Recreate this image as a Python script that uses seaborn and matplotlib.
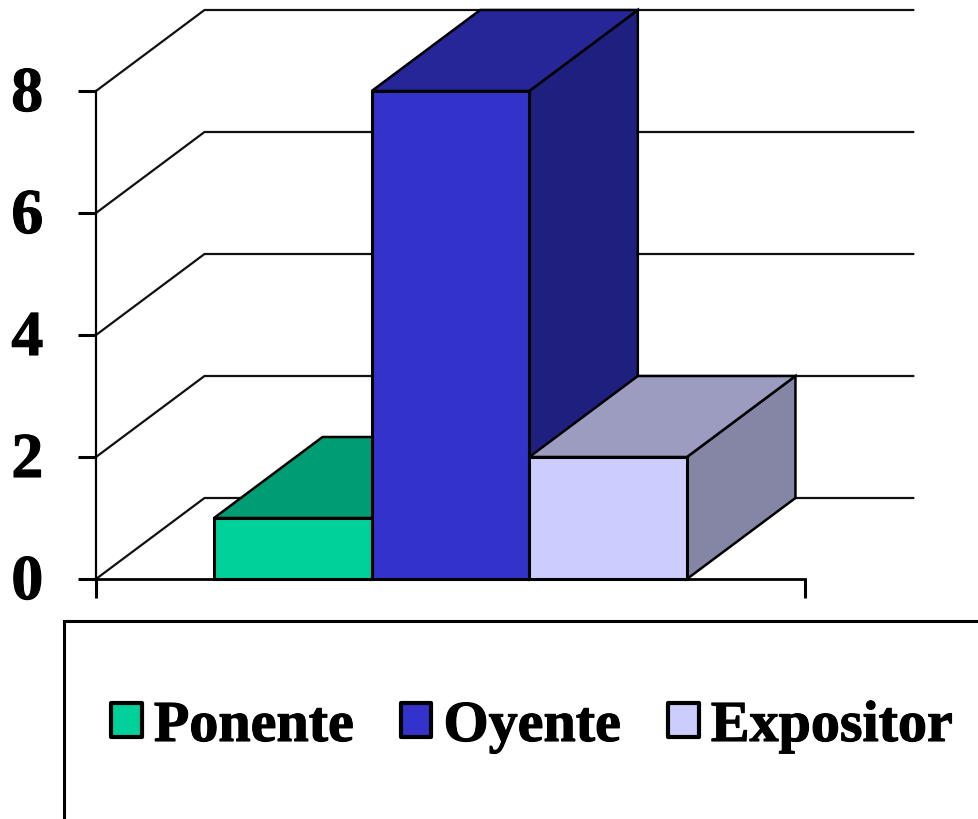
import matplotlib
matplotlib.use('Agg')
import matplotlib.pyplot as plt
import matplotlib.patheffects as pe
import matplotlib.transforms as mtrans
import seaborn as sns
import pandas as pd
from matplotlib.patches import Polygon, Rectangle

series = ['Ponente', 'Oyente', 'Expositor']
values = [1, 8, 2]
y_ticks = [0, 2, 4, 6, 8]

front_colors = ['#00D09A', '#3333CC', '#CCCCFF']
top_colors = ['#009C74', '#262699', '#9C9CC0']
side_colors = ['#00684D', '#1F1F80', '#8585A6']

sns.set_theme(style='white')
plt.rcParams['font.family'] = ['Liberation Serif', 'DejaVu Serif']
plt.rcParams['font.weight'] = 'bold'

W, H = 979, 819
fig = plt.figure(figsize=(W / 100, H / 100), dpi=100)
ax = fig.add_axes([96 / W, 1 - 579 / H, 709 / W, 488 / H])

df = pd.DataFrame({'grupo': [''] * 3, 'serie': series, 'valor': values})
sns.barplot(data=df, x='grupo', y='valor', hue='serie', hue_order=series,
            palette=front_colors, saturation=1, width=0.667, legend=False,
            edgecolor='black', linewidth=2.2, ax=ax)

ax.set_xlim(-0.5, 0.5)
ax.set_ylim(0, 8)

# depth of the fake 3d, in data units
depth_x = 108.5 / 709
depth_y = 81 / 61

for v in y_ticks:
    ax.plot([-0.5, -0.5 + depth_x, 0.5 + depth_x], [v, v + depth_y, v + depth_y],
            color='#111111', lw=1.6, clip_on=False, zorder=1)

# tops and sides, then the front, bar by bar from left to right
for i, cont in enumerate(ax.containers):
    bar = cont[0]
    x0, w, h = bar.get_x(), bar.get_width(), bar.get_height()
    x1 = x0 + w
    top = [(x0, h), (x1, h), (x1 + depth_x, h + depth_y), (x0 + depth_x, h + depth_y)]
    side = [(x1, 0), (x1 + depth_x, depth_y), (x1 + depth_x, h + depth_y), (x1, h)]
    base = 3 + i * 2
    ax.add_patch(Polygon(side, fc=side_colors[i], ec='black', lw=1.8, clip_on=False, zorder=base))
    ax.add_patch(Polygon(top, fc=top_colors[i], ec='black', lw=1.8, clip_on=False, zorder=base))
    bar.set_zorder(base + 1)
    bar.set_clip_on(False)

ax.set_xlabel('')
ax.set_ylabel('')
ax.set_xticks([-0.5, 0.5])
ax.set_xticklabels(['', ''])
ax.set_yticks(y_ticks)
ax.set_yticklabels([str(v) for v in y_ticks], fontsize=46, fontweight='bold', color='black',
                   va='center_baseline')
ax.tick_params(axis='y', left=True, length=13, width=2.2, color='black', pad=25)
ax.tick_params(axis='x', bottom=True, length=14, width=2.2, color='black')
sns.despine(ax=ax)
ax.spines['left'].set_color('black')
ax.spines['left'].set_linewidth(1.6)
ax.spines['bottom'].set_color('black')
ax.spines['bottom'].set_linewidth(2.0)
ax.spines['left'].set_zorder(2)
ax.spines['bottom'].set_zorder(2)
ax.patch.set_alpha(0)

# numbers sit a little higher and heavier in the original
nudge = mtrans.ScaledTranslation(0, 2 / 100, fig.dpi_scale_trans)
for lab in ax.get_yticklabels():
    lab.set_transform(lab.get_transform() + nudge)
    lab.set_path_effects([pe.withStroke(linewidth=0.8, foreground='black')])

# legend box runs off the right and bottom of the picture
fig.add_artist(Rectangle((64 / W, -0.1), 1.1, 1 - 621 / H + 0.1, transform=fig.transFigure,
                         fc='none', ec='black', lw=2.2))
leg = ax.legend([c[0] for c in ax.containers], series, loc='center left',
                bbox_to_anchor=(111.5 / W, 1 - 727 / H), bbox_transform=fig.transFigure,
                ncol=3, frameon=False, fontsize=41.8, handlelength=0.52, handleheight=0.52,
                handletextpad=0.21, columnspacing=0.82, borderpad=0, borderaxespad=0)
for t in leg.get_texts():
    t.set_fontweight('bold')
    t.set_color('black')
    t.set_path_effects([pe.withStroke(linewidth=0.8, foreground='black')])
for h in leg.legend_handles:
    h.set_linewidth(3)
    h.set_joinstyle('round')

fig.savefig('out.png', dpi=100)
